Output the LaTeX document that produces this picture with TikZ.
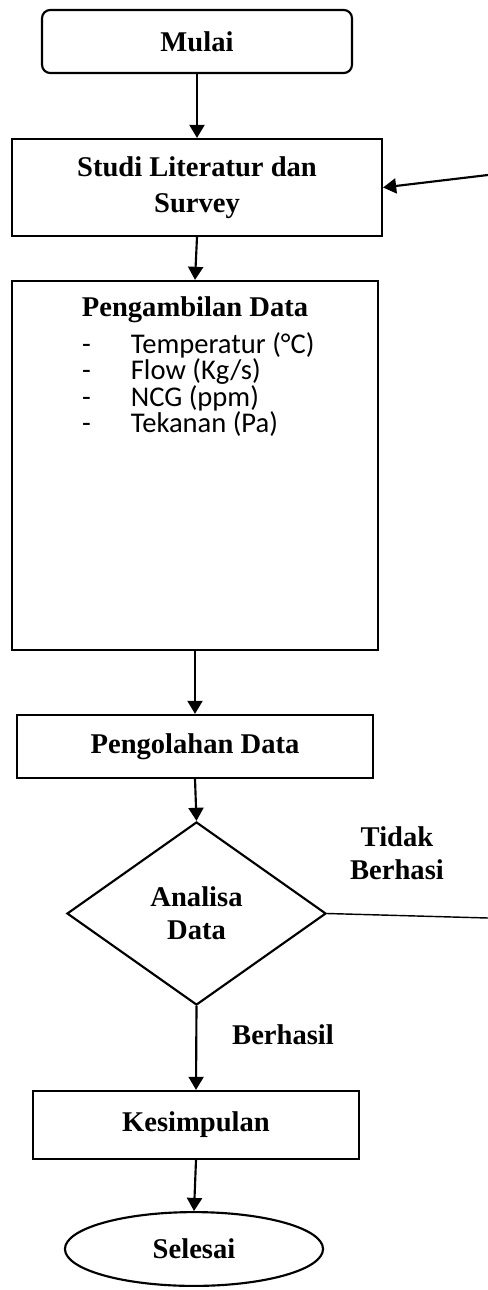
\documentclass[tikz,border=0pt]{standalone}
\usepackage{fontspec}
\setmainfont{Liberation Serif}
\newfontfamily\listfont{Carlito}
\usetikzlibrary{arrows.meta,shapes.geometric,positioning}
\tikzset {
  >={Triangle[length=5.5pt,width=6.3pt]},
  every node/.style={font=\fontsize{12}{13.9}\selectfont\bfseries, inner sep=0pt},
  proc/.style={draw, rectangle, align=center},
  butir/.style={anchor=west, font=\listfont\fontsize{12}{14}\selectfont},
}
\newcommand{\strip}{\makebox[20.5pt][l]{-}}

\begin{document}
\begin{tikzpicture}[x=0.42pt,y=-0.42pt,line width=0.9pt]
  \useasboundingbox (0,0) rectangle (488,1290);

  \node[proc, rounded corners=3.5pt, minimum width=130.2pt, minimum height=26.5pt]
    (mulai) at (197,41.5) {Mulai};
  \node[proc, minimum width=155.4pt, minimum height=40.7pt,
    font=\fontsize{12}{15.1}\selectfont\bfseries]
    (studi) at (197,187.5) {Studi Literatur dan\\Survey};
  \node[proc, minimum width=153.7pt, minimum height=155pt] (ambil) at (195,465.5) {};
  \node (ambiljudul) at (195,310) {Pengambilan Data};
  \node[butir] (suhu) at (81,345) {\strip Temperatur (°C)};
  \node[butir] (aliran) at (81,371.5) {\strip Flow (Kg/s)};
  \node[butir] (ncg) at (81,398) {\strip NCG (ppm)};
  \node[butir] (tekanan) at (81,424.5) {\strip Tekanan (Pa)};
  \node[proc, minimum width=149.5pt, minimum height=26.5pt] (olah) at (195,746.5) {Pengolahan Data};
  \node[draw, diamond, shape aspect=1.42, align=center, minimum width=108.8pt, minimum height=76.9pt]
    (analisa) at (196.5,913.5) {Analisa\\Data};
  \node[proc, minimum width=136.9pt, minimum height=28.6pt] (kesimpulan) at (196,1125) {Kesimpulan};
  \node[draw, ellipse, minimum width=108.4pt, minimum height=31pt] (selesai) at (194,1249) {Selesai};

  \node[align=center] (tidak) at (397,853.5) {Tidak\\Berhasi};
  \node (berhasil) at (283,1035) {Berhasil};

  \coordinate (kanan1) at (488,918);
  \coordinate (kanan2) at (488,175);

  \draw[->] (mulai) -- (studi);
  \draw[->] (studi.south) -- (ambil.north);
  \draw[->] (ambil) -- (olah);
  \draw[->] (olah.south) -- (analisa.north);
  \draw[->] (analisa.south) -- (kesimpulan.north);
  \draw[->] (kesimpulan.south) -- (selesai.north);
  \draw[line width=0.6pt] (analisa.east) -- (kanan1);
  \draw[->] (kanan2) -- (studi.east);
\end{tikzpicture}
\end{document}
